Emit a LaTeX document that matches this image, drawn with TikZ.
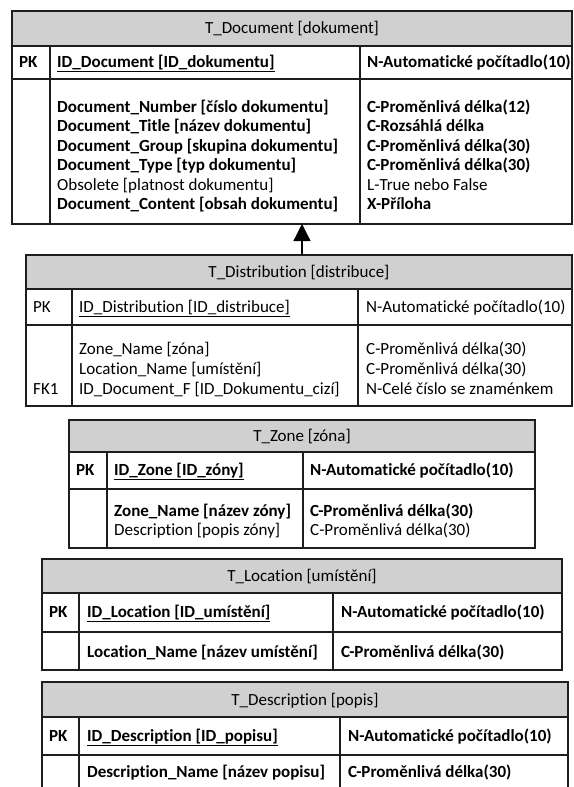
\documentclass[tikz,border=0pt]{standalone}
\usepackage{fontspec}
\setmainfont{Carlito}[Ligatures=CommonOff]
\usetikzlibrary{arrows.meta}
\definecolor{hdrgray}{RGB}{208,208,208}
\definecolor{linecol}{RGB}{30,30,30}
\newcommand\fs{\fontsize{17}{20}\selectfont}
\newcommand\uln[1]{\underline{#1}}
\tikzset{
  tline/.style={draw=linecol, line width=1.3pt},
  tbox/.style={draw=linecol, line width=1.3pt, inner sep=0pt, outer sep=0pt},
  tx/.style={anchor=base west, inner sep=0pt, font=\fs},
  tb/.style={anchor=base west, inner sep=0pt, font=\fs\bfseries},
  hd/.style={anchor=base, inner sep=0pt, font=\fs},
  relarrow/.style={draw=black, line width=1.3pt, -{Triangle[length=17pt,width=17pt]}},
}
% name, L, R, T, H1, H2, B, P, V
\newcommand\erdtable[9]{%
  \pgfmathsetmacro\tw{#3-#2}\pgfmathsetmacro\th{#7-#4}%
  \fill[hdrgray] (#2,#4) rectangle (#3,#5);
  \node[tbox, minimum width=\tw pt, minimum height=\th pt, anchor=north west] (#1) at (#2,#4) {};
  \draw[tline] (#2,#5) -- (#3,#5) (#2,#6) -- (#3,#6) (#8,#5) -- (#8,#7) (#9,#5) -- (#9,#7);
}
\begin{document}
\begin{tikzpicture}[x=1pt,y=-1pt]
\useasboundingbox (0,0) rectangle (573,787);
\clip (0,0) rectangle (573,787);

% ---------- T_Document ----------
\erdtable{doc}{12}{572}{11}{46}{79}{224}{50}{360}
\node[hd] (docH) at (292,33.5) {T\_Document [dokument]};
\node[tb] (docPK) at (19,67.5) {PK};
\node[tb] (docID) at (57,67.5) {\uln{ID\_Document [ID\_dokumentu]}};
\node[tb] (docIDt) at (367,67.5) {N-Automatické počítadlo(10)};
\node[tb] (docA1) at (57,112.5) {Document\_Number [číslo dokumentu]};
\node[tb] (docA2) at (57,131.9) {Document\_Title [název dokumentu]};
\node[tb] (docA3) at (57,151.3) {Document\_Group [skupina dokumentu]};
\node[tb] (docA4) at (57,170.7) {Document\_Type [typ dokumentu]};
\node[tx] (docA5) at (57,190.1) {Obsolete [platnost dokumentu]};
\node[tb] (docA6) at (57,209.5) {Document\_Content [obsah dokumentu]};
\node[tb] (docT1) at (367,112.5) {C-Proměnlivá délka(12)};
\node[tb] (docT2) at (367,131.9) {C-Rozsáhlá délka};
\node[tb] (docT3) at (367,151.3) {C-Proměnlivá délka(30)};
\node[tb] (docT4) at (367,170.7) {C-Proměnlivá délka(30)};
\node[tx] (docT5) at (367,190.1) {L-True nebo False};
\node[tb] (docT6) at (367,209.5) {X-Příloha};

% ---------- T_Distribution ----------
\erdtable{dist}{26}{572}{255}{289}{325}{406}{72}{358}
\node[hd] (distH) at (299,277.5) {T\_Distribution [distribuce]};
\node[tx] (distPK) at (33,312.5) {PK};
\node[tx] (distID) at (79,312.5) {\uln{ID\_Distribution [ID\_distribuce]}};
\node[tx] (distIDt) at (366,312.5) {N-Automatické počítadlo(10)};
\node[tx] (distA1) at (79,354.5) {Zone\_Name [zóna]};
\node[tx] (distA2) at (79,374.5) {Location\_Name [umístění]};
\node[tx] (distA3) at (79,394.5) {ID\_Document\_F [ID\_Dokumentu\_cizí]};
\node[tx] (distFK) at (33,394.5) {FK1};
\node[tx] (distT1) at (366,354.5) {C-Proměnlivá délka(30)};
\node[tx] (distT2) at (366,374.5) {C-Proměnlivá délka(30)};
\node[tx] (distT3) at (366,394.5) {N-Celé číslo se znaménkem};

% relationship arrow
\coordinate (ax) at (302,0);
\draw[relarrow] (dist.north -| ax) -- (doc.south -| ax);

% ---------- T_Zone ----------
\erdtable{zone}{69}{535}{420}{452}{489}{548}{107}{303}
\node[hd] (zoneH) at (302,441.5) {T\_Zone [zóna]};
\node[tb] (zonePK) at (76,475.5) {PK};
\node[tb] (zoneID) at (114,475.5) {\uln{ID\_Zone [ID\_zóny]}};
\node[tb] (zoneIDt) at (310,475.5) {N-Automatické počítadlo(10)};
\node[tb] (zoneA1) at (114,516.5) {Zone\_Name [název zóny]};
\node[tx] (zoneA2) at (114,535.5) {Description [popis zóny]};
\node[tb] (zoneT1) at (310,516.5) {C-Proměnlivá délka(30)};
\node[tx] (zoneT2) at (310,535.5) {C-Proměnlivá délka(30)};

% ---------- T_Location ----------
\erdtable{loc}{42}{562}{559}{593}{632}{670}{79}{333}
\node[hd] (locH) at (302,581.5) {T\_Location [umístění]};
\node[tb] (locPK) at (49,617.5) {PK};
\node[tb] (locID) at (87,617.5) {\uln{ID\_Location [ID\_umístění]}};
\node[tb] (locIDt) at (341,617.5) {N-Automatické počítadlo(10)};
\node[tb] (locA1) at (87,657.5) {Location\_Name [název umístění]};
\node[tb] (locT1) at (341,657.5) {C-Proměnlivá délka(30)};

% ---------- T_Description ----------
\erdtable{desc}{42}{568}{682}{717}{755}{792}{79}{340}
\node[hd] (descH) at (305,705.5) {T\_Description [popis]};
\node[tb] (descPK) at (49,741.5) {PK};
\node[tb] (descID) at (87,741.5) {\uln{ID\_Description [ID\_popisu]}};
\node[tb] (descIDt) at (348,741.5) {N-Automatické počítadlo(10)};
\node[tb] (descA1) at (87,777.5) {Description\_Name [název popisu]};
\node[tb] (descT1) at (348,777.5) {C-Proměnlivá délka(30)};
\end{tikzpicture}
\end{document}
